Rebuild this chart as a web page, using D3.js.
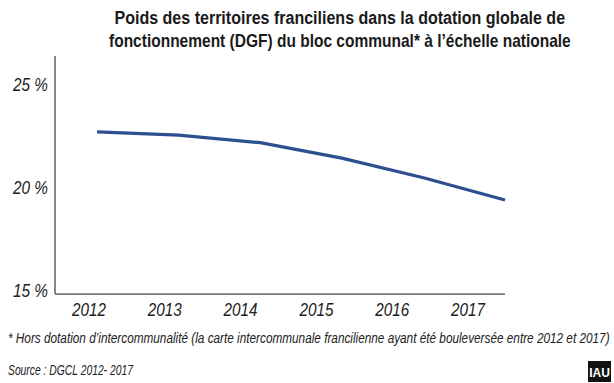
<!DOCTYPE html>
<html><head><meta charset="utf-8">
<script src="https://cdn.jsdelivr.net/npm/d3@7"></script>
<style>
html,body{margin:0;padding:0;background:#fff;}
svg{display:block;}
text{font-family:"Liberation Sans","DejaVu Sans",sans-serif;}
</style></head>
<body>
<script>
const years = ["2012","2013","2014","2015","2016","2017"];
const values = [22.72, 22.57, 22.20, 21.45, 20.50, 19.42];
const yTicks = [15, 20, 25];
const titleLines = ["Poids des territoires franciliens dans la dotation globale de",
                    "fonctionnement (DGF) du bloc communal* à l’échelle nationale"];
const footnote = "* Hors dotation d’intercommunalité (la carte intercommunale francilienne ayant été bouleversée entre 2012 et 2017)";
const source = "Source : DGCL 2012- 2017";

const W = 614, H = 383;
const svg = d3.select("body").append("svg").attr("width", W).attr("height", H);

// fit a text to a width by horizontal scaling (condensed look)
function fitText(g, str, x, yPos, width, anchor, attrs) {
  const grp = g.append("g");
  const t = grp.append("text").attr("x",0).attr("y",0).text(str);
  Object.entries(attrs).forEach(([k,v])=>t.attr(k,v));
  const w = t.node().getComputedTextLength();
  const k = width / w;
  const x0 = anchor === "middle" ? x - width/2 : anchor === "end" ? x - width : x;
  grp.attr("transform", `translate(${x0},${yPos}) scale(${k},1)`);
  return grp;
}

// scales
const y = d3.scaleLinear().domain([15, 25]).range([291, 85]);
const xLine = d3.scalePoint().domain(years).range([97, 505]);
const xLab = d3.scalePoint().domain(years).range([89, 468]);

// title
titleLines.forEach((s,i)=>{
  fitText(svg, s, 340, 24 + i*23, i===0 ? 451 : 462, "middle",
    {"font-size":18.5, "font-weight":"bold", "fill":"#1a1a1a"});
});

// axes lines
const axisColor = "#7a7a7a";
svg.append("line").attr("x1",55).attr("x2",55).attr("y1",56).attr("y2",y(14.85))
  .attr("stroke",axisColor).attr("stroke-width",1.8);
svg.append("line").attr("x1",55).attr("x2",505).attr("y1",y(14.85)).attr("y2",y(14.85))
  .attr("stroke",axisColor).attr("stroke-width",1.8);

const tickAttrs = {"font-size":18, "font-style":"italic", "fill":"#222"};
// y tick labels
yTicks.forEach(v=>{
  fitText(svg, v+" %", 48, y(v)+6, 35, "end", tickAttrs);
});
// x tick labels
years.forEach(v=>{
  fitText(svg, v, xLab(v), 316, 34, "middle", tickAttrs);
});

// line
const line = d3.line().x((d,i)=>xLine(years[i])).y(d=>y(d));
svg.append("path").datum(values).attr("d", line)
  .attr("fill","none").attr("stroke","#2b4f8f").attr("stroke-width",3.2)
  .attr("stroke-linecap","butt").attr("stroke-linejoin","round");

// footnote & source
fitText(svg, footnote, 8, 343, 602, "start",
  {"font-size":14.5, "font-style":"italic", "fill":"#222"});
fitText(svg, source, 8, 375, 125, "start",
  {"font-size":14.5, "font-style":"italic", "fill":"#222"});

// IAU logo
svg.append("rect").attr("x",588).attr("y",361).attr("width",23).attr("height",21).attr("fill","#111");
svg.append("text").attr("x",599.5).attr("y",377).attr("text-anchor","middle")
  .attr("font-size",12).attr("font-weight","bold").attr("fill","#fff")
  .text("IAU");
</script>
</body></html>
